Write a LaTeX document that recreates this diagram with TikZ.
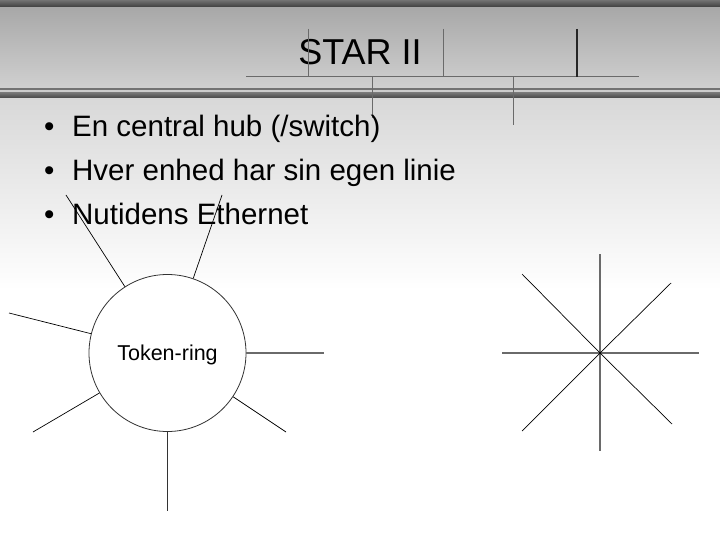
\documentclass[tikz,border=0pt]{standalone}
\usepackage{fontspec}
\setmainfont{Liberation Sans}
\definecolor{bandtop}{HTML}{A8A8A8}
\definecolor{bandbot}{HTML}{D0D0D0}
\definecolor{darkband}{HTML}{474747}
\definecolor{fadetop}{HTML}{D8D8D8}
\definecolor{rulegray}{HTML}{6A6A6A}
\tikzset{
  titlerule/.style={draw=rulegray, line width=1bp},
  spoke/.style={draw=black, line width=0.7bp},
  thickspoke/.style={draw=rulegray, line width=1.8bp},
  bullettext/.style={anchor=base west, inner sep=0pt, font=\fontsize{29.5bp}{34bp}\selectfont},
  bulletdot/.style={anchor=base, inner sep=0pt, font=\fontsize{29.5bp}{34bp}\selectfont},
}
\begin{document}
\begin{tikzpicture}[x=1bp, y=-1bp]
\useasboundingbox (0,0) rectangle (720,540);
% background
\fill[white] (0,0) rectangle (720,540);
\shade[top color=fadetop, bottom color=white] (0,97) rectangle (720,290);
\shade[top color=bandtop, bottom color=bandbot] (0,7) rectangle (720,88.5);
\shade[top color=black!55, bottom color=black!75] (0,0) rectangle (720,7);
\fill[black!55] (0,88.3) rectangle (720,89.6);
\fill[black!20] (0,89.6) rectangle (720,93);
\shade[top color=black!55, bottom color=darkband] (0,93) rectangle (720,98);
% title
\node[anchor=base, inner sep=0pt, font=\fontsize{36bp}{40bp}\selectfont] (title) at (360,64.5) {STAR II};
% title decoration lines
\coordinate (hl) at (246,77);
\coordinate (hr) at (639,77);
\coordinate (v1t) at (308,29); \coordinate (v1b) at (308,77);
\coordinate (v2t) at (443,29); \coordinate (v2b) at (443,77);
\coordinate (v3t) at (577,29); \coordinate (v3b) at (577,77);
\coordinate (d1t) at (372,77); \coordinate (d1b) at (372,118);
\coordinate (d2t) at (513,77); \coordinate (d2b) at (513,125);
\draw[titlerule] (hl) -- (hr);
\draw[titlerule] (v1t) -- (v1b);
\draw[titlerule] (v2t) -- (v2b);
\draw[draw=black!85, line width=1.2bp] (v3t) -- (v3b);
\draw[titlerule, line width=0.7bp] (d1t) -- (d1b);
\draw[titlerule, line width=0.7bp] (d2t) -- (d2b);
% bullets
\node[bulletdot] (b1) at (49.3,137) {•};
\node[bulletdot] (b2) at (49.3,180.7) {•};
\node[bulletdot] (b3) at (49.3,224.4) {•};
\node[bullettext] (t1) at (72,137) {En central hub (/switch)};
\node[bullettext] (t2) at (72,180.7) {Hver enhed har sin egen linie};
\node[bullettext] (t3) at (72,224.4) {Nutidens Ethernet};
% token ring
\node[circle, draw=black!80, line width=0.8bp, fill=white, minimum size=157bp, inner sep=0pt,
      text height=14bp, text depth=0bp, font=\fontsize{21.5bp}{24bp}\selectfont] (ring) at (167.5,353) {Token-ring};
\coordinate (r1) at (66,195);
\coordinate (r2) at (222,195);
\coordinate (r3) at (9,313);
\coordinate (r4) at (324,353);
\coordinate (r5) at (33,432);
\coordinate (r6) at (286,432);
\coordinate (r7) at (167.5,511);
\draw[spoke] (ring) -- (r1);
\draw[spoke] (ring) -- (r2);
\draw[spoke] (ring) -- (r3);
\draw[draw=rulegray, line width=1.5bp] (ring) -- (r4);
\draw[spoke] (ring) -- (r5);
\draw[spoke] (ring) -- (r6);
\draw[draw=black!80, line width=1bp] (ring) -- (r7);
% star
\coordinate (hub) at (600,353);
\coordinate (sn) at (600,254);
\coordinate (ss) at (600,451);
\coordinate (sw) at (502,353);
\coordinate (se) at (699,353);
\coordinate (snw) at (522,274);
\coordinate (sse) at (672,424);
\coordinate (sne) at (671,283);
\coordinate (ssw) at (522,431);
\draw[thickspoke] (hub) -- (sn);
\draw[thickspoke] (hub) -- (ss);
\draw[thickspoke] (hub) -- (sw);
\draw[thickspoke] (hub) -- (se);
\draw[spoke] (hub) -- (snw);
\draw[spoke] (hub) -- (sse);
\draw[spoke] (hub) -- (sne);
\draw[spoke] (hub) -- (ssw);
\end{tikzpicture}
\end{document}
